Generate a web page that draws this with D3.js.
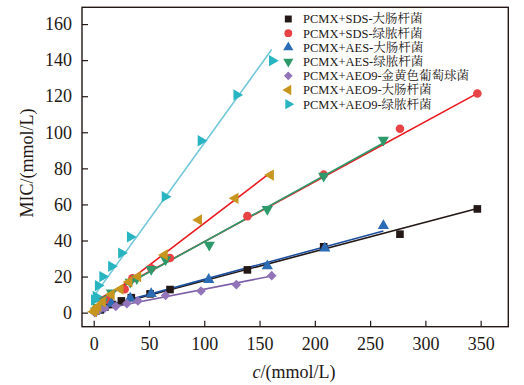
<!DOCTYPE html>
<html><head><meta charset="utf-8">
<script src="https://cdn.jsdelivr.net/npm/d3@7/dist/d3.min.js"></script>
<style>body{margin:0;background:#fff}svg{display:block}</style>
</head><body><svg id="c" width="524" height="385"></svg>
<script>
// ---- data ----
const seriesNames = ["PCMX+SDS-大肠杆菌","PCMX+SDS-绿脓杆菌","PCMX+AES-大肠杆菌","PCMX+AES-绿脓杆菌","PCMX+AEO9-金黄色葡萄球菌","PCMX+AEO9-大肠杆菌","PCMX+AEO9-绿脓杆菌"];
const sdsEcoliX = [2, 6, 10, 17, 25, 34, 51, 69, 139, 208, 277, 347];
const sdsEcoliY = [1, 1.5, 3, 4.5, 6.5, 8.3, 10.4, 12.8, 23.7, 36.5, 43.5, 57.5];
const sdsPaerX = [3, 7, 14, 28, 35, 52, 69, 139, 208, 277, 347];
const sdsPaerY = [2, 4, 7, 13, 19, 24.6, 30.3, 53.5, 76.5, 102, 121.5];
const aesEcoliX = [2, 4, 8, 16, 33, 52, 104, 157, 209, 262];
const aesEcoliY = [1, 2, 3, 5, 8, 10.5, 18.3, 25.9, 35.7, 48.2];
const aesPaerX = [2, 4, 8, 16, 33, 39, 52, 65, 104.5, 157, 208, 262];
const aesPaerY = [1, 3, 6, 11, 17, 19, 24, 29.5, 37.5, 57.3, 75.8, 95.7];
const aeoSaurX = [1, 3, 5, 10, 20, 30, 40, 65, 97, 129, 161];
const aeoSaurY = [0, 1, 1.5, 2.5, 3.5, 5, 6.5, 9.5, 12, 15.5, 20.5];
const aeoEcoliX = [0, 2, 4, 8, 16, 24, 32, 40, 64, 95, 128, 160];
const aeoEcoliY = [0.5, 2, 3.5, 6, 10, 13, 17, 20, 32, 51.4, 63.4, 76.3];
const aeoPaerX = [0.5, 2, 4, 8, 16, 25, 33, 64.5, 97, 129.3, 161.5];
const aeoPaerY = [7, 9, 15, 20, 25.7, 33, 42, 64.3, 95.3, 120.7, 139.7];
// linear fits [intercept, slope] and fitted x-range end
const fitIntercept = [1.5, 6, 1.8, 5.5, 1, 2.8, 9];
const fitSlope = [0.162, 0.333, 0.166, 0.338, 0.12, 0.468, 0.85];
const fitXEnd = [347, 347, 262, 262, 161, 161, 161];
const xTicks = [0, 50, 100, 150, 200, 250, 300, 350];
const yTicks = [0, 20, 40, 60, 80, 100, 120, 140, 160];

const seriesX = [sdsEcoliX, sdsPaerX, aesEcoliX, aesPaerX, aeoSaurX, aeoEcoliX, aeoPaerX];
const seriesY = [sdsEcoliY, sdsPaerY, aesEcoliY, aesPaerY, aeoSaurY, aeoEcoliY, aeoPaerY];

// ---- styles ----
const markerColor = ["#231815", "#e84245", "#2b6cb5", "#2e9a6b", "#9274b8", "#c8961f", "#28b5c1"];
const lineColor   = ["#231815", "#e8191f", "#1d4f9f", "#2e9a6b", "#7c5ea8", "#e8191f", "#72c7d8"];
const markerType  = ["square", "circle", "up", "down", "diamond", "left", "right"];

const svg = d3.select("#c");
const L = 82, R = 508.3, T = 7.3, B = 326.7;
const x = d3.scaleLinear().domain([-10.6, 375]).range([L, R]);
const y = d3.scaleLinear().domain([-7.8, 169.3]).range([B, T]);
const serif = "'Liberation Serif','Times New Roman','Noto Serif CJK SC','Noto Sans CJK SC',serif";
const ink = "#231815";

function symPath(type, s) {
  const tri = d3.symbol().type(d3.symbolTriangle).size(s * 0.95)();
  if (type === "square") return {d: d3.symbol().type(d3.symbolSquare).size(s)(), rot: 0};
  if (type === "circle") return {d: d3.symbol().type(d3.symbolCircle).size(s)(), rot: 0};
  if (type === "diamond") return {d: d3.symbol().type(d3.symbolSquare).size(s * 0.8)(), rot: 45};
  if (type === "up") return {d: tri, rot: 0};
  if (type === "down") return {d: tri, rot: 180};
  if (type === "left") return {d: tri, rot: -90};
  if (type === "right") return {d: tri, rot: 90};
}

// axes (ticks inward)
const xa = svg.append("g").attr("transform", `translate(0,${B})`)
  .call(d3.axisBottom(x).tickValues(xTicks).tickSizeInner(-6).tickSizeOuter(0).tickPadding(11));
const ya = svg.append("g").attr("transform", `translate(${L},0)`)
  .call(d3.axisLeft(y).tickValues(yTicks).tickSizeInner(-6).tickSizeOuter(0).tickPadding(10));
[xa, ya].forEach(g => {
  g.select(".domain").remove();
  g.selectAll("line").attr("stroke", ink).attr("stroke-width", 1.2);
  g.selectAll("text").attr("font-family", serif).attr("font-size", 18).attr("fill", ink);
});

// fit lines
for (let i = 0; i < 7; i++) {
  svg.append("line")
    .attr("x1", x(0)).attr("y1", y(fitIntercept[i]))
    .attr("x2", x(fitXEnd[i])).attr("y2", y(fitIntercept[i] + fitSlope[i] * fitXEnd[i]))
    .attr("stroke", lineColor[i]).attr("stroke-width", 1.6);
}

// markers
for (let i = 0; i < 7; i++) {
  const sp = symPath(markerType[i], 58);
  svg.append("g").selectAll("path").data(seriesX[i].map((v, j) => [v, seriesY[i][j]]))
    .join("path").attr("d", sp.d)
    .attr("transform", d => `translate(${x(d[0])},${y(d[1])}) rotate(${sp.rot})`)
    .attr("fill", markerColor[i]);
}

// frame
svg.append("rect").attr("x", L).attr("y", T).attr("width", R - L).attr("height", B - T)
  .attr("fill", "none").attr("stroke", ink).attr("stroke-width", 1.4);

// axis titles
svg.append("text").attr("transform", `translate(33,163) rotate(-90)`)
  .attr("text-anchor", "middle").attr("font-family", serif).attr("font-size", 18).attr("fill", ink)
  .text("MIC/(mmol/L)");
const xt = svg.append("text").attr("x", 294).attr("y", 378).attr("text-anchor", "middle")
  .attr("font-family", serif).attr("font-size", 18).attr("fill", ink);
xt.append("tspan").attr("font-style", "italic").text("c");
xt.append("tspan").text("/(mmol/L)");

// legend
const lg = svg.append("g");
seriesNames.forEach((n, i) => {
  const yy = 19 + i * 14.2;
  const sp = symPath(markerType[i], 48);
  lg.append("path").attr("d", sp.d).attr("transform", `translate(288.3,${yy}) rotate(${sp.rot})`)
    .attr("fill", markerColor[i]);
  lg.append("text").attr("x", 303).attr("y", yy).attr("dy", "0.35em")
    .attr("font-family", serif).attr("font-size", 12.5).attr("fill", ink).text(n);
});
</script></body></html>
